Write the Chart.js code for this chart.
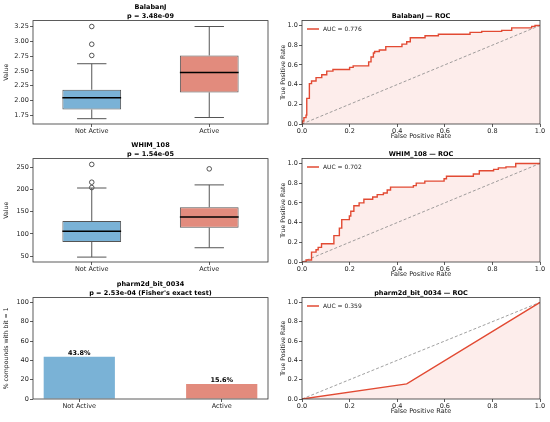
<!DOCTYPE html>
<html lang="en">
<head>
<meta charset="UTF-8">
<title>Feature panels</title>
<script src="https://cdn.jsdelivr.net/npm/chart.js"></script>
<style>
  html, body { margin: 0; padding: 0; background: #fff; }
  body { width: 550px; height: 422px; position: relative; overflow: hidden; }
  .panel { position: absolute; }
</style>
</head>
<body>
<div class="panel" style="left:0;top:0;width:280px;height:138px"><canvas id="box1"></canvas></div>
<div class="panel" style="left:280px;top:0;width:270px;height:142px"><canvas id="roc1"></canvas></div>
<div class="panel" style="left:0;top:138px;width:280px;height:138px"><canvas id="box2"></canvas></div>
<div class="panel" style="left:280px;top:138px;width:270px;height:142px"><canvas id="roc2"></canvas></div>
<div class="panel" style="left:0;top:277px;width:280px;height:136px"><canvas id="bar3"></canvas></div>
<div class="panel" style="left:280px;top:277px;width:270px;height:140px"><canvas id="roc3"></canvas></div>

<script>
// groups
const groups = ['Not Active', 'Active'];

// BalabanJ box stats (Not Active, Active)
const balabanQ1 = [1.845, 2.135];
const balabanMedian = [2.045, 2.47];
const balabanQ3 = [2.18, 2.76];
const balabanLow = [1.69, 1.71];
const balabanHigh = [2.62, 3.25];
const balabanOutliers = [[2.76, 2.95, 3.25], []];
const balabanTicks = [1.75, 2.00, 2.25, 2.50, 2.75, 3.00, 3.25];

// WHIM_108 box stats
const whimQ1 = [82, 114];
const whimMedian = [106, 138];
const whimQ3 = [129, 160];
const whimLow = [48, 69];
const whimHigh = [203, 210];
const whimOutliers = [[204, 216, 256], [246]];
const whimTicks = [50, 100, 150, 200, 250];

// pharm2d_bit_0034: % compounds with bit = 1
const bitPercent = [43.8, 15.6];
const bitTicks = [0, 20, 40, 60, 80, 100];

// ROC curves
const rocTicks = [0, 0.2, 0.4, 0.6, 0.8, 1.0];
const balabanFpr = [0, 0.003, 0.008, 0.017, 0.02, 0.031, 0.04, 0.059, 0.083, 0.104, 0.13, 0.2, 0.215,
  0.28, 0.29, 0.3, 0.305, 0.325, 0.352, 0.42, 0.44, 0.455, 0.517, 0.573, 0.706, 0.755, 0.839, 0.881, 0.965, 0.979, 1];
const balabanTpr = [0, 0.03, 0.065, 0.09, 0.26, 0.41, 0.436, 0.47, 0.5, 0.536, 0.553, 0.574, 0.59,
  0.63, 0.68, 0.72, 0.735, 0.75, 0.785, 0.81, 0.835, 0.875, 0.895, 0.91, 0.93, 0.94, 0.95, 0.975, 0.99, 1.0, 1];
const whimFpr = [0, 0.017, 0.04, 0.059, 0.068, 0.082, 0.134, 0.157, 0.167, 0.199, 0.205, 0.218, 0.24, 0.26,
  0.297, 0.316, 0.342, 0.358, 0.372, 0.468, 0.48, 0.516, 0.597, 0.607, 0.72, 0.745, 0.805, 0.825, 0.857, 0.898, 1];
const whimTpr = [0, 0.02, 0.1, 0.124, 0.148, 0.185, 0.268, 0.344, 0.43, 0.467, 0.515, 0.57, 0.6, 0.636,
  0.66, 0.684, 0.7, 0.73, 0.76, 0.775, 0.8, 0.82, 0.845, 0.87, 0.892, 0.926, 0.94, 0.955, 0.965, 1.0, 1];
const bitFpr = [0, 0.44, 1];
const bitTpr = [0, 0.156, 1];
const aucLabels = ['AUC = 0.776', 'AUC = 0.702', 'AUC = 0.359'];

const BLUE = 'rgb(122,178,214)';
const RED = 'rgb(226,139,125)';
const ROC_RED = '#e24a33';
const FONT = 'DejaVu Sans';

// box round the plot area, like matplotlib spines
const framePlugin = {
    id: 'frame',
    afterDraw(chart) {
        const a = chart.chartArea, ctx = chart.ctx;
        ctx.save();
        ctx.strokeStyle = '#333';
        ctx.lineWidth = 0.8;
        ctx.strokeRect(a.left, a.top, a.right - a.left, a.bottom - a.top);
        ctx.restore();
    }
};

// whiskers, caps and medians on top of the floating bars
const whiskerPlugin = {
    id: 'boxWhiskers',
    afterDatasetsDraw(chart, args, opts) {
        const ctx = chart.ctx, y = chart.scales.y;
        const meta = chart.getDatasetMeta(0);
        ctx.save();
        meta.data.forEach((bar, i) => {
            const half = bar.width / 2;
            const x = bar.x;
            ctx.strokeStyle = '#555';
            ctx.lineWidth = 1;
            ctx.beginPath();
            ctx.moveTo(x, y.getPixelForValue(opts.q3[i]));
            ctx.lineTo(x, y.getPixelForValue(opts.high[i]));
            ctx.moveTo(x, y.getPixelForValue(opts.q1[i]));
            ctx.lineTo(x, y.getPixelForValue(opts.low[i]));
            ctx.moveTo(x - half / 2, y.getPixelForValue(opts.high[i]));
            ctx.lineTo(x + half / 2, y.getPixelForValue(opts.high[i]));
            ctx.moveTo(x - half / 2, y.getPixelForValue(opts.low[i]));
            ctx.lineTo(x + half / 2, y.getPixelForValue(opts.low[i]));
            ctx.stroke();
            ctx.strokeStyle = '#000';
            ctx.lineWidth = 1.5;
            ctx.beginPath();
            ctx.moveTo(x - half, y.getPixelForValue(opts.median[i]));
            ctx.lineTo(x + half, y.getPixelForValue(opts.median[i]));
            ctx.stroke();
        });
        ctx.restore();
    }
};

// percent labels above the bars
const barLabelPlugin = {
    id: 'barLabels',
    afterDatasetsDraw(chart) {
        const ctx = chart.ctx;
        const ds = chart.data.datasets[0];
        ctx.save();
        ctx.font = 'bold 6.5px "' + FONT + '"';
        ctx.fillStyle = '#000';
        ctx.textAlign = 'center';
        ctx.textBaseline = 'bottom';
        chart.getDatasetMeta(0).data.forEach((bar, i) => {
            ctx.fillText(ds.data[i].y.toFixed(1) + '%', bar.x, bar.y - 0.5);
        });
        ctx.restore();
    }
};

// small legend in the upper left corner of the ROC plots
const rocLegendPlugin = {
    id: 'rocLegend',
    afterDraw(chart, args, opts) {
        const a = chart.chartArea, ctx = chart.ctx;
        const ly = a.top + 8.5;
        ctx.save();
        ctx.strokeStyle = ROC_RED;
        ctx.lineWidth = 1.5;
        ctx.beginPath();
        ctx.moveTo(a.left + 5, ly);
        ctx.lineTo(a.left + 17, ly);
        ctx.stroke();
        ctx.font = '6px "' + FONT + '"';
        ctx.fillStyle = '#222';
        ctx.textBaseline = 'middle';
        ctx.fillText(opts.text, a.left + 21, ly);
        ctx.restore();
    }
};

function tickFont() {
    return { family: FONT, size: 6.5 };
}

function titleOpts(lines, top) {
    return {
        display: true,
        fullSize: false,
        text: lines,
        color: '#000',
        font: { family: FONT, size: 6.5, weight: 'bold', lineHeight: 1.4 },
        padding: { top: top, bottom: 0 }
    };
}

function yAxis(min, max, ticks, digits, label, width, titlePad) {
    return {
        type: 'linear',
        min: min,
        max: max,
        afterBuildTicks: s => { s.ticks = ticks.map(v => ({ value: v })); },
        afterFit: s => { s.width = width; },
        ticks: { color: '#222', font: tickFont(), padding: 1.2, callback: v => v.toFixed(digits) },
        grid: { drawOnChartArea: false, color: '#333', tickLength: 3, lineWidth: 0.8 },
        border: { display: false },
        title: { display: true, text: label, color: '#222', font: { family: FONT, size: 6.2 }, padding: { top: titlePad, bottom: 0 } }
    };
}

function boxChart(id, title, q1, median, q3, low, high, outliers, ticks, yMin, yMax, digits) {
    const outlierPts = [];
    groups.forEach((g, i) => outliers[i].forEach(v => outlierPts.push({ x: g, y: v })));
    new Chart(document.getElementById(id), {
        type: 'bar',
        data: {
            labels: groups,
            datasets: [{
                data: groups.map((g, i) => [q1[i], q3[i]]),
                backgroundColor: [BLUE, RED],
                borderColor: '#555',
                borderWidth: 1,
                borderSkipped: false,
                barPercentage: 0.5,
                categoryPercentage: 1
            }, {
                type: 'line',
                data: outlierPts,
                showLine: false,
                pointRadius: 2.3,
                pointBorderWidth: 0.9,
                pointBorderColor: '#444',
                pointBackgroundColor: 'rgba(255,255,255,0)'
            }]
        },
        options: {
            responsive: true,
            maintainAspectRatio: false,
            animation: false,
            layout: { padding: { left: 0, right: 12, top: 0, bottom: 0 } },
            plugins: {
                legend: { display: false },
                tooltip: { enabled: false },
                title: titleOpts(title, 2.4),
                boxWhiskers: { q1: q1, median: median, q3: q3, low: low, high: high }
            },
            scales: {
                x: {
                    type: 'category',
                    offset: true,
                    afterFit: s => { s.height = 14; },
                    ticks: { color: '#222', font: tickFont(), padding: 0.5 },
                    grid: { offset: false, drawOnChartArea: false, color: '#333', tickLength: 3, lineWidth: 0.8 },
                    border: { display: false }
                },
                y: yAxis(yMin, yMax, ticks, digits, 'Value', 33, 3)
            }
        },
        plugins: [whiskerPlugin, framePlugin]
    });
}

function rocChart(id, title, fpr, tpr, stepped, auc) {
    new Chart(document.getElementById(id), {
        type: 'line',
        data: {
            datasets: [{
                data: fpr.map((x, i) => ({ x: x, y: tpr[i] })),
                stepped: stepped,
                borderColor: ROC_RED,
                borderWidth: 1.4,
                backgroundColor: 'rgba(231,76,60,0.1)',
                fill: 'origin',
                pointRadius: 0
            }, {
                data: [{ x: 0, y: 0 }, { x: 1, y: 1 }],
                borderColor: '#888',
                borderWidth: 0.8,
                borderDash: [3, 2],
                pointRadius: 0,
                fill: false
            }]
        },
        options: {
            responsive: true,
            maintainAspectRatio: false,
            animation: false,
            layout: { padding: { left: 0, right: 10, top: 0, bottom: 0 } },
            plugins: {
                legend: { display: false },
                tooltip: { enabled: false },
                filler: { drawTime: 'beforeDatasetsDraw' },
                title: titleOpts(title, 11.4),
                rocLegend: { text: auc }
            },
            scales: {
                x: {
                    type: 'linear',
                    min: 0,
                    max: 1,
                    afterBuildTicks: s => { s.ticks = rocTicks.map(v => ({ value: v })); },
                    afterFit: s => { s.height = 18; },
                    ticks: { color: '#222', font: tickFont(), padding: 0.5, callback: v => v.toFixed(1) },
                    grid: { drawOnChartArea: false, color: '#333', tickLength: 3, lineWidth: 0.8 },
                    border: { display: false },
                    title: { display: true, text: 'False Positive Rate', color: '#222', font: { family: FONT, size: 6.5 }, padding: { top: 0, bottom: 2 } }
                },
                y: yAxis(0, 1.05, rocTicks, 1, 'True Positive Rate', 22, 0)
            }
        },
        plugins: [framePlugin, rocLegendPlugin]
    });
}

boxChart('box1', ['BalabanJ', 'p = 3.48e-09'], balabanQ1, balabanMedian, balabanQ3, balabanLow, balabanHigh,
    balabanOutliers, balabanTicks, 1.6, 3.35, 2);
boxChart('box2', ['WHIM_108', 'p = 1.54e-05'], whimQ1, whimMedian, whimQ3, whimLow, whimHigh,
    whimOutliers, whimTicks, 37, 269, 0);

rocChart('roc1', 'BalabanJ \u2014 ROC', balabanFpr, balabanTpr, 'before', aucLabels[0]);
rocChart('roc2', 'WHIM_108 \u2014 ROC', whimFpr, whimTpr, 'before', aucLabels[1]);
rocChart('roc3', 'pharm2d_bit_0034 \u2014 ROC', bitFpr, bitTpr, false, aucLabels[2]);

// bar panel: bars at 0 and 1 on a linear axis, like matplotlib
new Chart(document.getElementById('bar3'), {
    type: 'bar',
    data: {
        datasets: [{
            data: bitPercent.map((v, i) => ({ x: i, y: v })),
            backgroundColor: [BLUE, RED],
            barPercentage: 0.5,
            categoryPercentage: 1
        }]
    },
    options: {
        responsive: true,
        maintainAspectRatio: false,
        animation: false,
        layout: { padding: { left: 0, right: 12, top: 0, bottom: 0 } },
        plugins: {
            legend: { display: false },
            tooltip: { enabled: false },
            title: titleOpts(['pharm2d_bit_0034', "p = 2.53e-04 (Fisher's exact test)"], 2.4)
        },
        scales: {
            x: {
                type: 'linear',
                offset: false,
                min: -0.325,
                max: 1.325,
                afterBuildTicks: s => { s.ticks = [{ value: 0 }, { value: 1 }]; },
                afterFit: s => { s.height = 14; },
                ticks: { color: '#222', font: tickFont(), padding: 0.5, callback: v => groups[v] },
                grid: { offset: false, drawOnChartArea: false, color: '#333', tickLength: 3, lineWidth: 0.8 },
                border: { display: false }
            },
            y: yAxis(0, 105, bitTicks, 0, '% compounds with bit = 1', 33, 3)
        }
    },
    plugins: [barLabelPlugin, framePlugin]
});
</script>
</body>
</html>
